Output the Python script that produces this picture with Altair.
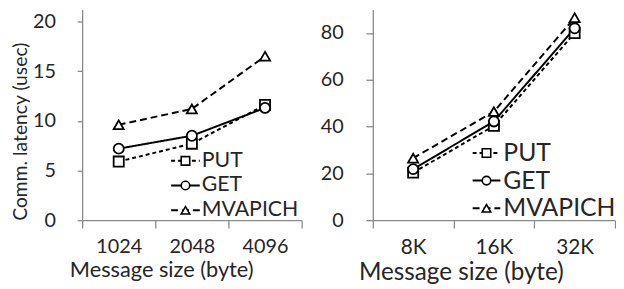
import altair as alt
import pandas as pd

series = ["PUT", "GET", "MVAPICH"]
sizes_left = ["1024", "2048", "4096"]
put_left = [5.9, 7.7, 11.6]
get_left = [7.2, 8.5, 11.3]
mvapich_left = [9.6, 11.2, 16.5]
ticks_left = [0, 5, 10, 15, 20]

sizes_right = ["8K", "16K", "32K"]
put_right = [20.3, 40.3, 80.0]
get_right = [21.8, 42.2, 82.0]
mvapich_right = [26.5, 46.4, 86.5]
ticks_right = [0, 20, 40, 60, 80]

FONT = "Lato"
TEXT = "#262626"
AX = "#8a8a8a"
dash_range = [[4, 3], [1, 0], [7, 4]]
shape_range = ["square", "circle", "triangle-up"]


def make_df(sizes, vals_list):
    rows = []
    for name, vals in zip(series, vals_list):
        for s, v in zip(sizes, vals):
            rows.append({"size": s, "series": name, "latency": v})
    return pd.DataFrame(rows)


dash_scale = alt.Scale(domain=series, range=dash_range)
shape_scale = alt.Scale(domain=series, range=shape_range)


def panel(df, sizes, ymax, ticks, width, height, ytitle, title_x, leg, leg_font,
          xlab_font, xtitle_font, ytick, ypad):
    x = alt.X(
        "size:N", sort=sizes, bandPosition=0.5,
        scale=alt.Scale(type="band", paddingInner=0, paddingOuter=0),
        axis=alt.Axis(title="Message size (byte)", tickBand="extent", labelAngle=0,
                      tickSize=8, labelPadding=9, titlePadding=3, titleX=title_x,
                      titleAnchor="middle", titleFontSize=xtitle_font, labelFontSize=xlab_font),
    )
    yaxis = dict(values=ticks, grid=False, tickSize=ytick, labelPadding=ypad, labelFontSize=20)
    if ytitle:
        yaxis["title"] = ytitle
        yaxis["titlePadding"] = 2
        yaxis["titleY"] = 123
        yaxis["titleFontSize"] = 19.5
    else:
        yaxis["title"] = None
    y = alt.Y("latency:Q", scale=alt.Scale(domain=[0, ymax], nice=False), axis=alt.Axis(**yaxis))
    lines = alt.Chart(df).mark_line(color="black", strokeWidth=2).encode(
        x=x, y=y, strokeDash=alt.StrokeDash("series:N", scale=dash_scale, legend=None),
    )
    pts = alt.Chart(df).mark_point(filled=False, color="black", fill="white", strokeWidth=1.8,
                                   size=105, opacity=1).encode(
        x=x, y=y, shape=alt.Shape("series:N", scale=shape_scale, legend=None),
    )
    data_layer = alt.layer(lines, pts)

    # in-plot legend (placed like the reference's legend box)
    x0, x1, xt, y0, y1 = leg
    leg_df = pd.DataFrame({"series": series})
    ly = alt.Y("series:N", scale=alt.Scale(type="point", domain=series, range=[y0, y1], padding=0),
               axis=None)
    leg_rule = alt.Chart(leg_df).mark_rule(color="black", strokeWidth=2).encode(
        x=alt.value(x0), x2=alt.value(x1), y=ly,
        strokeDash=alt.StrokeDash("series:N", scale=dash_scale, legend=None),
    )
    leg_pt = alt.Chart(leg_df).mark_point(filled=False, color="black", fill="white",
                                          strokeWidth=1.6, size=74, opacity=1).encode(
        x=alt.value((x0 + x1) / 2), y=ly,
        shape=alt.Shape("series:N", scale=shape_scale, legend=None),
    )
    leg_txt = alt.Chart(leg_df).mark_text(align="left", baseline="middle", font=FONT,
                                          fontSize=leg_font, color=TEXT).encode(
        x=alt.value(xt), y=ly, text="series:N",
    )
    legend_layer = alt.layer(leg_rule, leg_pt, leg_txt)
    return alt.layer(data_layer, legend_layer).resolve_scale(y="independent").properties(
        width=width, height=height)


left = panel(make_df(sizes_left, [put_left, get_left, mvapich_left]), sizes_left, 21.2, ticks_left,
             222, 213, "Comm. latency (usec)", 80, (90, 119, 121, 153, 203), 21.5, 20, 22, 5, 22)
right = panel(make_df(sizes_right, [put_right, get_right, mvapich_right]), sizes_right, 90,
              ticks_right, 245, 213, None, 89, (101, 129, 132, 145, 201), 25, 21, 24.5, 7, 23)

chart = alt.hconcat(left, right, spacing=17).resolve_scale(
    x="independent", y="independent", strokeDash="shared", shape="shared"
).configure_view(
    stroke=None
).configure_axis(
    labelFont=FONT, titleFont=FONT, labelColor=TEXT, titleColor=TEXT, titleFontWeight="normal",
    domainColor=AX, tickColor=AX, domainWidth=1.3, tickWidth=1.3,
).properties(background="white", padding={"left": 2, "top": 0, "right": 0, "bottom": 0})

chart.save("out.html", embed_options={"renderer": "svg", "actions": False})
